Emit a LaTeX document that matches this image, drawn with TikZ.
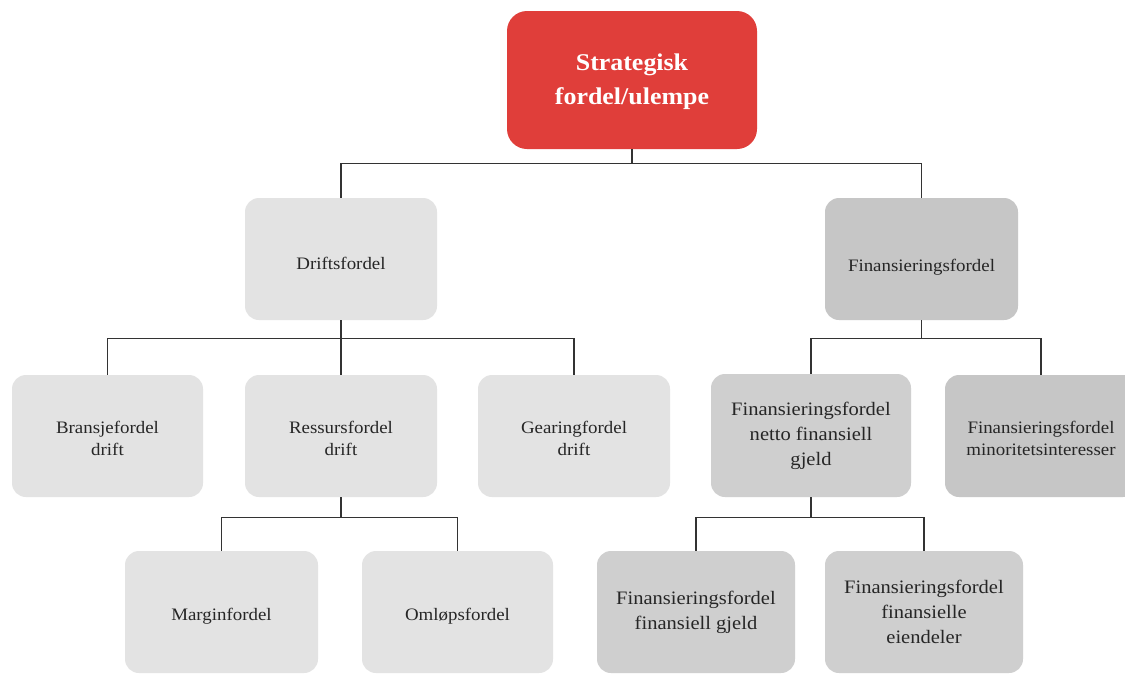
\documentclass[tikz,border=0pt]{standalone}
\usepackage{fontspec}
\setmainfont{Liberation Serif}
\newfontfamily\wideserif[FakeStretch=1.08]{Liberation Serif}
\newcommand{\lowered}[2]{\raisebox{-#1}[\height][\depth]{#2}}
\begin{document}
\begin{tikzpicture}[x=1pt,y=-1pt,
  box/.style={rounded corners=14pt, align=center, inner sep=2pt, text=black!85,
    font=\wideserif\fontsize{17.5}{22}\selectfont, minimum width=192pt, minimum height=122pt},
  bigtext/.style={font=\wideserif\fontsize{19}{25}\selectfont},
  light/.style={box, fill=gray!22},
  mid/.style={box, fill=gray!38},
  dark/.style={box, fill=gray!45},
  conn/.style={draw=black!80, line width=1.4pt}]
\useasboundingbox (0,0) rectangle (1125,675);
\fill[white] (0,0) rectangle (1125,675);
\begin{scope}
\clip (0,0) rectangle (1125,675);
\node[box, fill={rgb,255:red,224;green,62;blue,58}, text=white, minimum width=250pt, minimum height=138pt,
  rounded corners=20pt, font=\wideserif\bfseries\fontsize{24}{34}\selectfont] (top) at (632,80) {\lowered{2pt}{Strategisk}\\\lowered{2pt}{fordel/ulempe}};
\node[light] (drift) at (341,259) {\lowered{4pt}{Driftsfordel}};
\node[dark, minimum width=193pt] (fin) at (921.5,259) {\lowered{8pt}{Finansieringsfordel}};
\node[light, minimum width=191pt] (bransje) at (107.5,436) {\lowered{2pt}{Bransjefordel}\\\lowered{2pt}{drift}};
\node[light] (ressurs) at (341,436) {\lowered{2pt}{Ressursfordel}\\\lowered{2pt}{drift}};
\node[light] (gearing) at (574,436) {\lowered{2pt}{Gearingfordel}\\\lowered{2pt}{drift}};
\node[mid, bigtext, minimum width=200pt, minimum height=123pt] (netto) at (811,435.5) {Finansieringsfordel\\netto finansiell\\gjeld};
\node[dark] (minor) at (1041,436) {\lowered{2pt}{Finansieringsfordel}\\\lowered{2pt}{minoritetsinteresser}};
\node[light, minimum width=193pt] (margin) at (221.5,612) {\lowered{4pt}{Marginfordel}};
\node[light, minimum width=191pt] (omlop) at (457.5,612) {\lowered{4pt}{Omløpsfordel}};
\node[mid, bigtext, minimum width=198pt] (fgjeld) at (696,612) {Finansieringsfordel\\finansiell gjeld};
\node[mid, bigtext, minimum width=198pt] (feiend) at (924,612) {Finansieringsfordel\\finansielle\\eiendeler};
\end{scope}
\draw[conn] (top.south) -- ++(0,14) -| (drift.north);
\draw[conn] (top.south) -- ++(0,14) -| (fin.north);
\draw[conn] (drift.south) -- ++(0,18) -| (bransje.north);
\draw[conn] (drift.south) -- ++(0,18) -| (gearing.north);
\draw[conn] (drift.south) -- (ressurs.north);
\draw[conn] (ressurs.south) -- ++(0,20) -| (margin.north);
\draw[conn] (ressurs.south) -- ++(0,20) -| (omlop.north);
\draw[conn] (fin.south) -- ++(0,18) -| (netto.north);
\draw[conn] (fin.south) -- ++(0,18) -| (minor.north);
\draw[conn] (netto.south) -- ++(0,20) -| (fgjeld.north);
\draw[conn] (netto.south) -- ++(0,20) -| (feiend.north);
\end{tikzpicture}
\end{document}
